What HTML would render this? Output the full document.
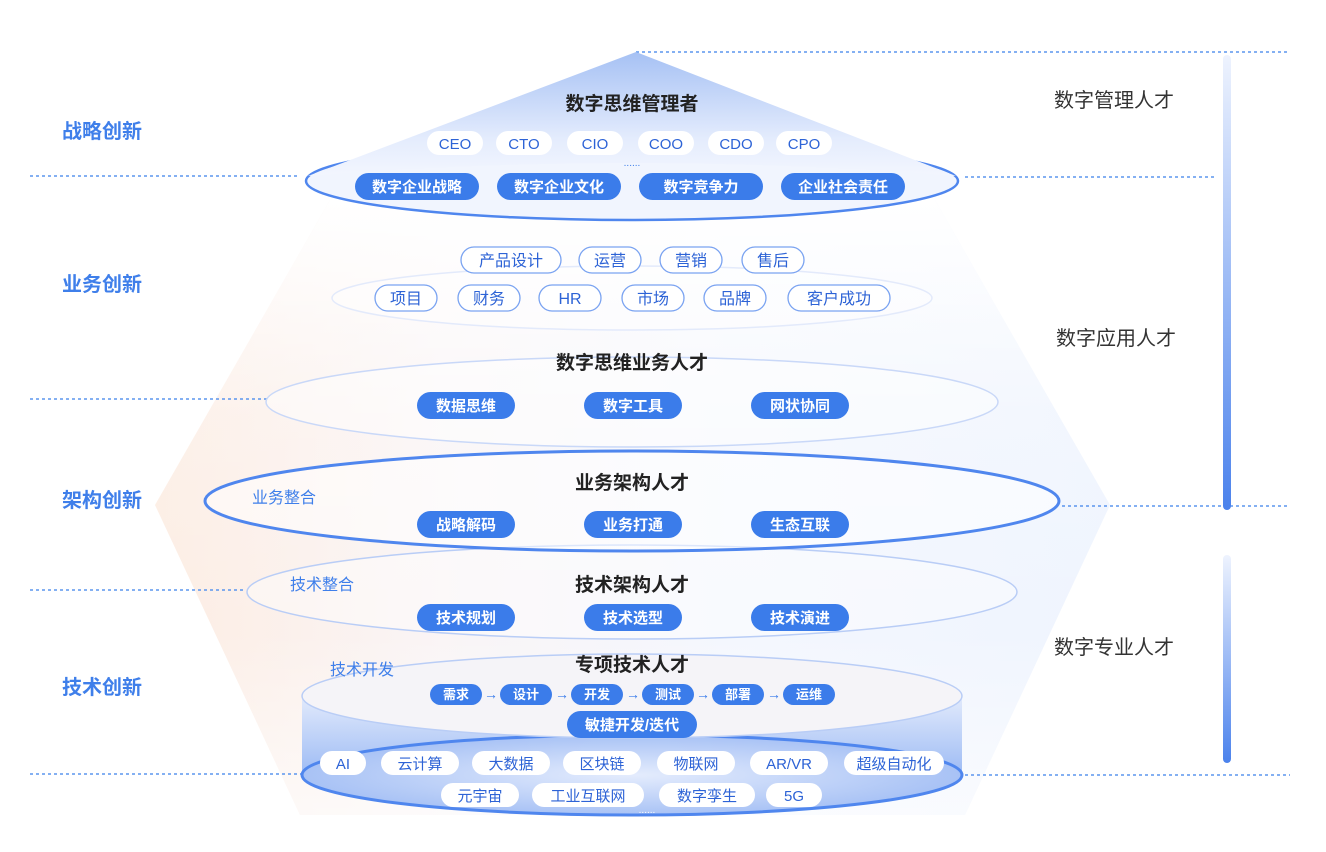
<!DOCTYPE html>
<html><head><meta charset="utf-8"><style>
body{margin:0;background:#fff}
svg{display:block}
text{font-family:"Liberation Sans","Noto Sans CJK SC",sans-serif}
.lt{fill:#3f7fea;font-size:20px;font-weight:bold}
.rt{fill:#333;font-size:20px}
.ti{fill:#222;font-size:19px;font-weight:bold;text-anchor:middle}
.dp{fill:#3b7cea}
.dt{fill:#fff;font-size:15px;text-anchor:middle;font-weight:bold}
.op{fill:#fff;stroke:#7aa3f1;stroke-width:1.3}
.ot{fill:#2d63d6;font-size:16px;text-anchor:middle}
.wp{fill:#fff}
.wt{fill:#2d63d6;font-size:15px;text-anchor:middle}
.side{fill:#3f7fea;font-size:16px}
.dl{stroke:#5b95ee;stroke-width:1.5;stroke-dasharray:3 3}
</style></head><body>
<svg width="1326" height="852" viewBox="0 0 1326 852" xmlns="http://www.w3.org/2000/svg">
<defs>
<linearGradient id="fun" x1="0" x2="1" y1="0" y2="0">
<stop offset="0" stop-color="#fbe1d0"/><stop offset="0.3" stop-color="#f6eef0"/><stop offset="0.6" stop-color="#edf2fd"/><stop offset="1" stop-color="#e4edfd"/></linearGradient>
<linearGradient id="funv" x1="0" x2="0" y1="0" y2="1">
<stop offset="0" stop-color="#fff" stop-opacity="1"/><stop offset="0.35" stop-color="#fff" stop-opacity="0.2"/><stop offset="0.7" stop-color="#fff" stop-opacity="0"/><stop offset="1" stop-color="#fff" stop-opacity="0.6"/></linearGradient>
<linearGradient id="tri" x1="0" x2="0" y1="0" y2="1">
<stop offset="0" stop-color="#a6c1f4"/><stop offset="0.7" stop-color="#e4ecfd"/><stop offset="1" stop-color="#f3f6fe"/></linearGradient>
<linearGradient id="bar" x1="0" x2="0" y1="0" y2="1">
<stop offset="0" stop-color="#eef3fe"/><stop offset="1" stop-color="#4b82ec"/></linearGradient>
<linearGradient id="cyl" x1="0" x2="0" y1="0" y2="1">
<stop offset="0" stop-color="#e3ebfc"/><stop offset="1" stop-color="#9dbbf4"/></linearGradient>
<radialGradient id="bot" cx="0.5" cy="0.5" r="0.5">
<stop offset="0" stop-color="#e4ecfd"/><stop offset="1" stop-color="#a8c2f5"/></radialGradient>
</defs>

<path d="M330 200 L935 200 L1110 505 L965 815 L300 815 L155 505 Z" fill="url(#fun)" opacity="0.6"/>
<path d="M330 200 L935 200 L1110 505 L965 815 L300 815 L155 505 Z" fill="url(#funv)"/>

<line class="dl" x1="636" y1="52" x2="1290" y2="52"/>
<line class="dl" x1="30" y1="176" x2="300" y2="176"/>
<line class="dl" x1="965" y1="177" x2="1215" y2="177"/>
<line class="dl" x1="30" y1="399" x2="268" y2="399"/>
<line class="dl" x1="1062" y1="506" x2="1290" y2="506"/>
<line class="dl" x1="30" y1="590" x2="245" y2="590"/>
<line class="dl" x1="30" y1="774" x2="302" y2="774"/>
<line class="dl" x1="965" y1="775" x2="1290" y2="775"/>

<rect x="1223" y="55" width="8" height="455" rx="4" fill="url(#bar)"/>
<rect x="1223" y="555" width="8" height="208" rx="4" fill="url(#bar)"/>

<text class="lt" x="62" y="138">战略创新</text>
<text class="lt" x="62" y="291">业务创新</text>
<text class="lt" x="62" y="507">架构创新</text>
<text class="lt" x="62" y="694">技术创新</text>
<text class="rt" x="1054" y="107">数字管理人才</text>
<text class="rt" x="1056" y="345">数字应用人才</text>
<text class="rt" x="1054" y="654">数字专业人才</text>

<ellipse cx="632" cy="298" rx="300" ry="32" fill="#fff" fill-opacity="0.4" stroke="#e3eafb" stroke-width="1.5"/>
<ellipse cx="632" cy="402" rx="366" ry="45" fill="#fff" fill-opacity="0.45" stroke="#c9d8f8" stroke-width="1.5"/>
<ellipse cx="632" cy="592" rx="385" ry="47" fill="#fff" fill-opacity="0.4" stroke="#b9cdf6" stroke-width="1.5"/>
<ellipse cx="632" cy="501" rx="427" ry="50" fill="#fff" fill-opacity="0.5" stroke="#4f86ee" stroke-width="3"/>

<rect x="302" y="695" width="660" height="80" fill="url(#cyl)"/>
<ellipse cx="632" cy="775" rx="330" ry="40" fill="url(#bot)" stroke="#4f86ee" stroke-width="3"/>
<ellipse cx="632" cy="696" rx="330" ry="42" fill="#f5f4f8" stroke="#b9cdf6" stroke-width="1.5"/>

<ellipse cx="632" cy="181" rx="326" ry="39" fill="#f1f5fe" stroke="#4f86ee" stroke-width="2.5"/>
<path d="M636 52 L308 176 Q632 150 956 176 Z" fill="url(#tri)"/>

<text class="ti" x="632" y="110">数字思维管理者</text>
<g>
<rect class="wp" x="427" y="131" width="56" height="24" rx="12"/><text class="wt" x="455" y="149">CEO</text>
<rect class="wp" x="496" y="131" width="56" height="24" rx="12"/><text class="wt" x="524" y="149">CTO</text>
<rect class="wp" x="567" y="131" width="56" height="24" rx="12"/><text class="wt" x="595" y="149">CIO</text>
<rect class="wp" x="638" y="131" width="56" height="24" rx="12"/><text class="wt" x="666" y="149">COO</text>
<rect class="wp" x="708" y="131" width="56" height="24" rx="12"/><text class="wt" x="736" y="149">CDO</text>
<rect class="wp" x="776" y="131" width="56" height="24" rx="12"/><text class="wt" x="804" y="149">CPO</text>
<text x="632" y="166" fill="#3b7cea" font-size="10" text-anchor="middle">......</text>
</g>
<g>
<rect class="dp" x="355" y="173" width="124" height="27" rx="13.5"/><text class="dt" x="417" y="192">数字企业战略</text>
<rect class="dp" x="497" y="173" width="124" height="27" rx="13.5"/><text class="dt" x="559" y="192">数字企业文化</text>
<rect class="dp" x="639" y="173" width="124" height="27" rx="13.5"/><text class="dt" x="701" y="192">数字竞争力</text>
<rect class="dp" x="781" y="173" width="124" height="27" rx="13.5"/><text class="dt" x="843" y="192">企业社会责任</text>
</g>

<g>
<rect class="op" x="461" y="247" width="100" height="26" rx="13"/><text class="ot" x="511" y="266">产品设计</text>
<rect class="op" x="579" y="247" width="62" height="26" rx="13"/><text class="ot" x="610" y="266">运营</text>
<rect class="op" x="660" y="247" width="62" height="26" rx="13"/><text class="ot" x="691" y="266">营销</text>
<rect class="op" x="742" y="247" width="62" height="26" rx="13"/><text class="ot" x="773" y="266">售后</text>
<rect class="op" x="375" y="285" width="62" height="26" rx="13"/><text class="ot" x="406" y="304">项目</text>
<rect class="op" x="458" y="285" width="62" height="26" rx="13"/><text class="ot" x="489" y="304">财务</text>
<rect class="op" x="539" y="285" width="62" height="26" rx="13"/><text class="ot" x="570" y="304">HR</text>
<rect class="op" x="622" y="285" width="62" height="26" rx="13"/><text class="ot" x="653" y="304">市场</text>
<rect class="op" x="704" y="285" width="62" height="26" rx="13"/><text class="ot" x="735" y="304">品牌</text>
<rect class="op" x="788" y="285" width="102" height="26" rx="13"/><text class="ot" x="839" y="304">客户成功</text>
</g>

<text class="ti" x="632" y="369">数字思维业务人才</text>
<rect class="dp" x="417" y="392" width="98" height="27" rx="13.5"/><text class="dt" x="466" y="411">数据思维</text>
<rect class="dp" x="584" y="392" width="98" height="27" rx="13.5"/><text class="dt" x="633" y="411">数字工具</text>
<rect class="dp" x="751" y="392" width="98" height="27" rx="13.5"/><text class="dt" x="800" y="411">网状协同</text>

<text class="ti" x="632" y="489">业务架构人才</text>
<text class="side" x="252" y="503">业务整合</text>
<rect class="dp" x="417" y="511" width="98" height="27" rx="13.5"/><text class="dt" x="466" y="530">战略解码</text>
<rect class="dp" x="584" y="511" width="98" height="27" rx="13.5"/><text class="dt" x="633" y="530">业务打通</text>
<rect class="dp" x="751" y="511" width="98" height="27" rx="13.5"/><text class="dt" x="800" y="530">生态互联</text>

<text class="ti" x="632" y="591">技术架构人才</text>
<text class="side" x="290" y="590">技术整合</text>
<rect class="dp" x="417" y="604" width="98" height="27" rx="13.5"/><text class="dt" x="466" y="623">技术规划</text>
<rect class="dp" x="584" y="604" width="98" height="27" rx="13.5"/><text class="dt" x="633" y="623">技术选型</text>
<rect class="dp" x="751" y="604" width="98" height="27" rx="13.5"/><text class="dt" x="800" y="623">技术演进</text>

<text class="ti" x="632" y="671">专项技术人才</text>
<text class="side" x="330" y="675">技术开发</text>
<g>
<rect class="dp" x="430" y="684" width="52" height="21" rx="10.5"/><text class="dt" x="456" y="699" style="font-size:13px">需求</text>
<rect class="dp" x="500" y="684" width="52" height="21" rx="10.5"/><text class="dt" x="526" y="699" style="font-size:13px">设计</text>
<rect class="dp" x="571" y="684" width="52" height="21" rx="10.5"/><text class="dt" x="597" y="699" style="font-size:13px">开发</text>
<rect class="dp" x="642" y="684" width="52" height="21" rx="10.5"/><text class="dt" x="668" y="699" style="font-size:13px">测试</text>
<rect class="dp" x="712" y="684" width="52" height="21" rx="10.5"/><text class="dt" x="738" y="699" style="font-size:13px">部署</text>
<rect class="dp" x="783" y="684" width="52" height="21" rx="10.5"/><text class="dt" x="809" y="699" style="font-size:13px">运维</text>
<text x="491" y="699" fill="#3b7cea" font-size="14" text-anchor="middle">→</text>
<text x="562" y="699" fill="#3b7cea" font-size="14" text-anchor="middle">→</text>
<text x="633" y="699" fill="#3b7cea" font-size="14" text-anchor="middle">→</text>
<text x="703" y="699" fill="#3b7cea" font-size="14" text-anchor="middle">→</text>
<text x="774" y="699" fill="#3b7cea" font-size="14" text-anchor="middle">→</text>
</g>
<rect class="dp" x="567" y="711" width="130" height="27" rx="13.5"/><text class="dt" x="632" y="730">敏捷开发/迭代</text>

<g>
<rect class="wp" x="320" y="751" width="46" height="24" rx="12"/><text class="wt" x="343" y="769">AI</text>
<rect class="wp" x="381" y="751" width="78" height="24" rx="12"/><text class="wt" x="420" y="769">云计算</text>
<rect class="wp" x="472" y="751" width="78" height="24" rx="12"/><text class="wt" x="511" y="769">大数据</text>
<rect class="wp" x="563" y="751" width="78" height="24" rx="12"/><text class="wt" x="602" y="769">区块链</text>
<rect class="wp" x="657" y="751" width="78" height="24" rx="12"/><text class="wt" x="696" y="769">物联网</text>
<rect class="wp" x="750" y="751" width="78" height="24" rx="12"/><text class="wt" x="789" y="769">AR/VR</text>
<rect class="wp" x="844" y="751" width="100" height="24" rx="12"/><text class="wt" x="894" y="769">超级自动化</text>
<rect class="wp" x="441" y="783" width="78" height="24" rx="12"/><text class="wt" x="480" y="801">元宇宙</text>
<rect class="wp" x="532" y="783" width="112" height="24" rx="12"/><text class="wt" x="588" y="801">工业互联网</text>
<rect class="wp" x="659" y="783" width="96" height="24" rx="12"/><text class="wt" x="707" y="801">数字孪生</text>
<rect class="wp" x="766" y="783" width="56" height="24" rx="12"/><text class="wt" x="794" y="801">5G</text>
<text x="647" y="813" fill="#fff" font-size="10" text-anchor="middle">......</text>
</g>
</svg>
</body></html>
